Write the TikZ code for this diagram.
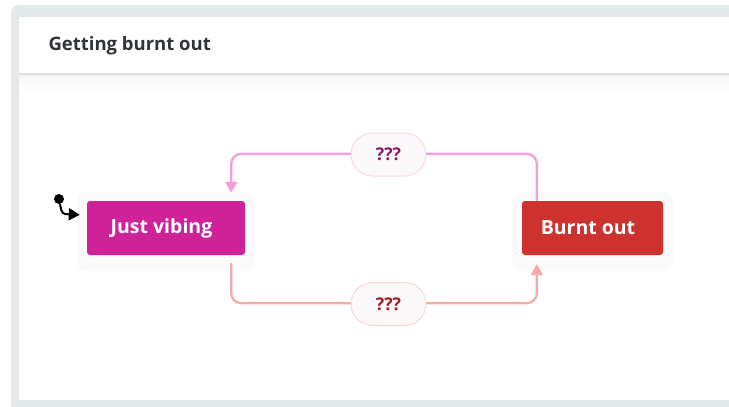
\documentclass[tikz,border=0pt]{standalone}
\usepackage{fontspec}
\setmainfont{Open Sans}
\usetikzlibrary{arrows.meta,shapes.misc}
\definecolor{frame}{HTML}{E3E8E8}
\definecolor{vibe}{HTML}{CF2298}
\definecolor{burnt}{HTML}{CD322E}
\definecolor{topedge}{HTML}{F79BDD}
\definecolor{botedge}{HTML}{F4A9A4}
\definecolor{toptext}{HTML}{861A68}
\definecolor{bottext}{HTML}{A01C1C}
\definecolor{pill}{HTML}{FAF8F9}
\definecolor{halo}{HTML}{FAFAFA}
\definecolor{headtext}{HTML}{2F3337}
\tikzset{
  statebox/.style={rectangle, rounded corners=3pt, text=white, font=\fontsize{19.5}{24}\selectfont\bfseries, inner sep=0pt},
  pilllabel/.style={rounded rectangle, minimum width=75pt, minimum height=43pt, fill=pill, line width=1pt, font=\fontsize{17.5}{20}\selectfont\bfseries, inner sep=0pt},
  edge/.style={line width=2.2pt, rounded corners=10pt, -{Triangle[width=12pt,length=11pt]}},
}
\begin{document}
\begin{tikzpicture}[x=1pt,y=-1pt]
\useasboundingbox (0,0) rectangle (729,407);
% frame
\fill[frame, rounded corners=8pt] (11,5) rectangle (760,430);
\fill[white] (19,17) rectangle (729,400);
% header shadow
\shade[top color=black!14, bottom color=white] (19,73) rectangle (729,77);
\shade[top color=black!3, bottom color=white] (19,77) rectangle (729,92);
\fill[white] (19,17) rectangle (729,73);
\node[anchor=west, text=headtext, font=\fontsize{18.5}{22}\selectfont\bfseries] (title) at (45,46) {Getting burnt out};
% halos
\fill[halo, rounded corners=10pt] (77,192) rectangle (255,271);
\fill[halo, rounded corners=10pt] (512,192) rectangle (673,271);
% nodes
\node[statebox, fill=vibe, minimum width=158pt, minimum height=54pt] (jv) at (166,228) {\hspace*{-9pt}\raisebox{-1pt}{Just vibing}};
\node[statebox, fill=burnt, minimum width=141pt, minimum height=54pt] (bo) at (592.5,228) {\hspace*{-9pt}\raisebox{-1pt}{Burnt out}};
% initial
\node[circle, fill=black, minimum size=10pt, inner sep=0pt] (init) at (59,199) {};
\coordinate (initend) at ([xshift=-7pt,yshift=-14pt]jv.north west);
\draw[line width=2pt, -{Triangle[width=12pt,length=11pt]}] (init) .. controls (62,214) .. (initend);
% edges
\coordinate (t1) at ([xshift=15pt]bo.north west);
\coordinate (t2) at ([xshift=-14pt,yshift=47pt]jv.north east);
\coordinate (t3) at ([xshift=-14pt,yshift=8pt]jv.north east);
\draw[edge, topedge] (t1) |- (t2) -- (t3);
\coordinate (b1) at ([xshift=-14pt,yshift=-8pt]jv.south east);
\coordinate (b2) at ([xshift=15pt,yshift=-48pt]bo.south west);
\coordinate (b3) at ([xshift=15pt,yshift=-9pt]bo.south west);
\draw[edge, botedge] (b1) |- (b2) -- (b3);
% labels
\node[pilllabel, draw=topedge!40, text=toptext] (l1) at (388.5,154.5) {???};
\node[pilllabel, draw=botedge!45, text=bottext] (l2) at (388.5,304) {???};
\end{tikzpicture}
\end{document}
